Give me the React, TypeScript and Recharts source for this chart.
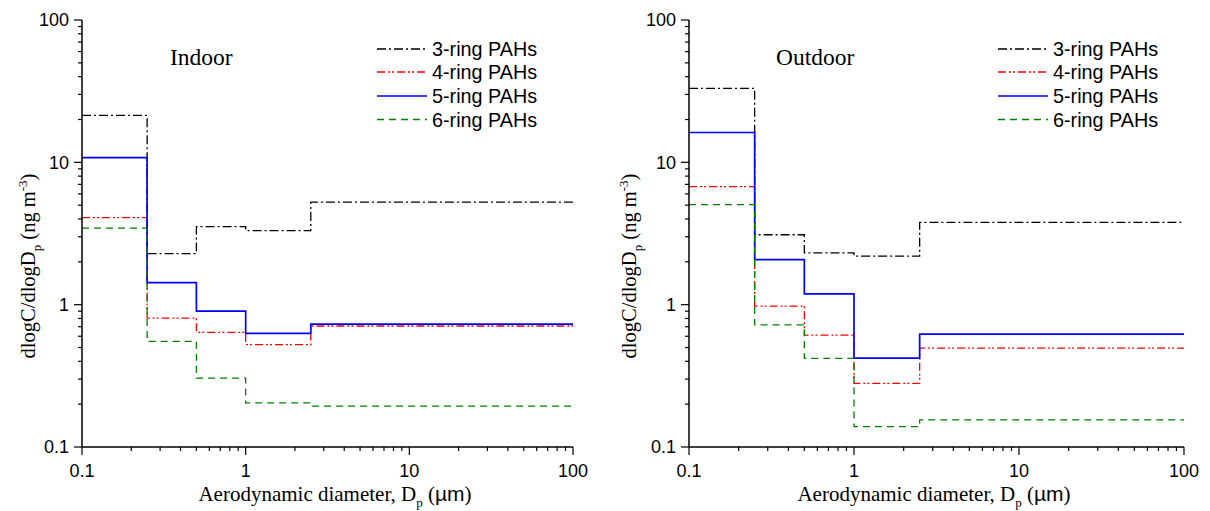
import React from "react";
import { LineChart, Line, XAxis, YAxis } from "recharts";

// size bin edges (µm) and per-bin concentrations (ng m-3)
const edges = [0.1, 0.25, 0.5, 1, 2.5, 100];

const indoor3 = [21.4, 2.28, 3.53, 3.31, 5.26];
const indoor4 = [4.09, 0.805, 0.639, 0.524, 0.708];
const indoor5 = [10.8, 1.43, 0.9, 0.629, 0.73];
const indoor6 = [3.45, 0.552, 0.305, 0.204, 0.194];

const outdoor3 = [33.1, 3.1, 2.31, 2.19, 3.78];
const outdoor4 = [6.75, 0.978, 0.61, 0.28, 0.495];
const outdoor5 = [16.2, 2.07, 1.19, 0.421, 0.62];
const outdoor6 = [5.05, 0.72, 0.42, 0.139, 0.155];

const majorTicks = [0.1, 1, 10, 100];
const seriesNames = ["3-ring PAHs", "4-ring PAHs", "5-ring PAHs", "6-ring PAHs"];

const SANS = '"Liberation Sans", Arial, sans-serif';
const SERIF = '"Liberation Serif", "Times New Roman", serif';

const styles = [
  { key: "r3", color: "#000000", dash: "9 3 2 3", width: 1.3 },
  { key: "r4", color: "#ff0000", dash: "8 3 2 2 2 3", width: 1.3 },
  { key: "r5", color: "#0000ff", dash: undefined, width: 1.7 },
  { key: "r6", color: "#008000", dash: "7 5", width: 1.3 },
];

// log ticks: decades plus 2..9 minors
const allTicks: number[] = [];
for (let d = 0; d < 3; d++) {
  const base = majorTicks[d];
  for (let k = 1; k < 10; k++) allTicks.push(base * k);
}
allTicks.push(100);

const isMajor = (v: number) => {
  const l = Math.log10(v);
  return Math.abs(l - Math.round(l)) < 1e-6;
};
const fmt = (v: number) => (v < 1 ? "0.1" : String(Math.round(v)));

function buildRows(s3: number[], s4: number[], s5: number[], s6: number[]) {
  return edges.map((x, i) => {
    const j = Math.min(i, s3.length - 1);
    return { x, r3: s3[j], r4: s4[j], r5: s5[j], r6: s6[j] };
  });
}

const BottomTick = (props: any) => {
  const { x, y, payload } = props;
  const major = isMajor(payload.value);
  return (
    <g>
      <line x1={x} x2={x} y1={y} y2={y + (major ? 8 : 4)} stroke="#000" strokeWidth={1.2} />
      {major && (
        <text x={x} y={y + 30} textAnchor="middle" fontSize={18} fontFamily={SANS} fill="#000">
          {fmt(payload.value)}
        </text>
      )}
    </g>
  );
};

const TopTick = (props: any) => {
  const { x, y, payload } = props;
  const major = isMajor(payload.value);
  return <line x1={x} x2={x} y1={y} y2={y + (major ? 6 : 3.5)} stroke="#000" strokeWidth={1} />;
};

const LeftTick = (props: any) => {
  const { x, y, payload } = props;
  const major = isMajor(payload.value);
  return (
    <g>
      <line x1={x} x2={x - (major ? 8 : 4)} y1={y} y2={y} stroke="#000" strokeWidth={1.2} />
      {major && (
        <text x={x - 13} y={y} dy="0.36em" textAnchor="end" fontSize={18} fontFamily={SANS} fill="#000">
          {fmt(payload.value)}
        </text>
      )}
    </g>
  );
};

const RightTick = (props: any) => {
  const { x, y, payload } = props;
  const major = isMajor(payload.value);
  return <line x1={x} x2={x - (major ? 6 : 3.5)} y1={y} y2={y} stroke="#000" strokeWidth={1} />;
};

type PanelProps = {
  left: number;
  marginLeft: number;
  marginRight: number;
  rows: any[];
};

function Panel({ left, marginLeft, marginRight, rows }: PanelProps) {
  const axisLine = { stroke: "#000", strokeWidth: 1.5 };
  return (
    <div style={{ position: "absolute", left, top: 0 }}>
      <LineChart
        width={605}
        height={511}
        data={rows}
        margin={{ top: 20, right: marginRight, bottom: 34, left: 0 }}
      >
        <XAxis
          xAxisId="b"
          dataKey="x"
          type="number"
          scale="log"
          domain={[0.1, 100]}
          allowDataOverflow
          ticks={allTicks}
          interval={0}
          tickSize={0}
          tickMargin={0}
          tickLine={false}
          axisLine={axisLine}
          tick={<BottomTick />}
          height={30}
        />
        <XAxis
          xAxisId="t"
          orientation="top"
          dataKey="x"
          type="number"
          scale="log"
          domain={[0.1, 100]}
          allowDataOverflow
          ticks={allTicks}
          interval={0}
          tickSize={0}
          tickMargin={0}
          tickLine={false}
          axisLine={axisLine}
          tick={<TopTick />}
          height={0}
        />
        <YAxis
          yAxisId="l"
          type="number"
          scale="log"
          domain={[0.1, 100]}
          allowDataOverflow
          ticks={allTicks}
          interval={0}
          tickSize={0}
          tickMargin={0}
          tickLine={false}
          axisLine={axisLine}
          tick={<LeftTick />}
          width={marginLeft}
        />
        <YAxis
          yAxisId="r"
          orientation="right"
          type="number"
          scale="log"
          domain={[0.1, 100]}
          allowDataOverflow
          ticks={allTicks}
          interval={0}
          tickSize={0}
          tickMargin={0}
          tickLine={false}
          axisLine={axisLine}
          tick={<RightTick />}
          width={0}
        />
        {styles.map((s) => (
          <Line
            key={s.key}
            xAxisId="b"
            yAxisId="l"
            type="stepAfter"
            dataKey={s.key}
            stroke={s.color}
            strokeWidth={s.width}
            strokeDasharray={s.dash}
            dot={false}
            activeDot={false}
            isAnimationActive={false}
          />
        ))}
      </LineChart>
    </div>
  );
}

type LabelProps = {
  title: string;
  titleX: number;
  legendX: number;
  xLabelX: number;
  yLabelX: number;
};

function Labels({ title, titleX, legendX, xLabelX, yLabelX }: LabelProps) {
  const rowY = [49, 72, 96, 119.5];
  return (
    <g>
      <text x={titleX} y={65} fontFamily={SERIF} fontSize={23.5} fill="#000">
        {title}
      </text>
      {styles.map((s, i) => (
        <g key={s.key}>
          <line
            x1={legendX}
            x2={legendX + 50}
            y1={rowY[i]}
            y2={rowY[i]}
            stroke={s.color}
            strokeWidth={s.width}
            strokeDasharray={s.dash}
          />
          <text x={legendX + 55} y={rowY[i]} dy="0.36em" fontFamily={SANS} fontSize={19.8} fill="#000">
            {seriesNames[i]}
          </text>
        </g>
      ))}
      <text x={xLabelX} y={501} textAnchor="middle" fontFamily={SERIF} fontSize={21} fill="#000">
        Aerodynamic diameter, D
        <tspan fontSize={13} dy={6}>p</tspan>
        <tspan dy={-6}> (</tspan>
        <tspan fontFamily={SANS}>µm</tspan>
        <tspan>)</tspan>
      </text>
      <text
        transform={`translate(${yLabelX},266) rotate(-90)`}
        textAnchor="middle"
        fontFamily={SERIF}
        fontSize={20.5}
        fill="#000"
      >
        dlogC/dlogD
        <tspan fontSize={13} dy={6}>p</tspan>
        <tspan dy={-6}> (ng m</tspan>
        <tspan fontSize={13} dy={-8}>-3</tspan>
        <tspan dy={8}>)</tspan>
      </text>
    </g>
  );
}

export default function App() {
  const indoorRows = buildRows(indoor3, indoor4, indoor5, indoor6);
  const outdoorRows = buildRows(outdoor3, outdoor4, outdoor5, outdoor6);
  return (
    <div
      style={{
        position: "absolute",
        left: 0,
        top: 0,
        width: 1210,
        height: 511,
        background: "#fff",
        overflow: "hidden",
      }}
    >
      <Panel left={0} marginLeft={82} marginRight={32} rows={indoorRows} />
      <Panel left={605} marginLeft={84} marginRight={26} rows={outdoorRows} />
      <svg
        width={1210}
        height={511}
        style={{ position: "absolute", left: 0, top: 0, pointerEvents: "none" }}
      >
        <Labels title="Indoor" titleX={170} legendX={377} xLabelX={335} yLabelX={35} />
        <Labels title="Outdoor" titleX={776} legendX={998} xLabelX={934} yLabelX={636} />
      </svg>
    </div>
  );
}
